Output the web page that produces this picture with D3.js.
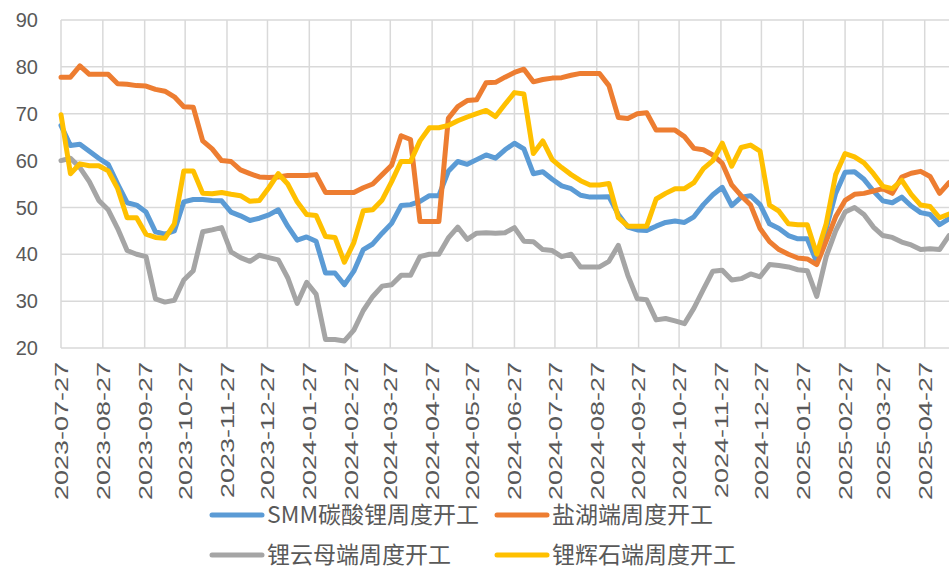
<!DOCTYPE html>
<html>
<head>
<meta charset="utf-8">
<script src="https://cdn.jsdelivr.net/npm/d3@7/dist/d3.min.js"></script>
<style>
  body { margin: 0; background: #fff; }
  text { fill: #595959; }
</style>
</head>
<body>
<svg id="chart" width="949" height="571"></svg>
<script>

// weekly readings, one per Thursday from 2023-07-27
var firstWeek = "2023-07-27";
var lastDay = "2025-05-15";

var monthTicks = ["2023-07-27", "2023-08-27", "2023-09-27", "2023-10-27", "2023-11-27", "2023-12-27",
    "2024-01-27", "2024-02-27", "2024-03-27", "2024-04-27", "2024-05-27", "2024-06-27",
    "2024-07-27", "2024-08-27", "2024-09-27", "2024-10-27", "2024-11-27", "2024-12-27",
    "2025-01-27", "2025-02-27", "2025-03-27", "2025-04-27"];

var yTicks = [20, 30, 40, 50, 60, 70, 80, 90];

var seriesNames = ["SMM碳酸锂周度开工", "盐湖端周度开工", "锂云母端周度开工", "锂辉石端周度开工"];
var seriesColors = ["#5B9BD5", "#ED7D31", "#A5A5A5", "#FFC000"];

var smmRate = [
    67.5, 63.2, 63.5, 62.0, 60.5, 59.2, 55.0, 51.0, 50.5, 49.0,
    44.8, 44.3, 45.0, 51.2, 51.7, 51.7, 51.5, 51.4, 49.0, 48.2,
    47.2, 47.7, 48.4, 49.5, 46.0, 43.0, 43.7, 42.8, 36.0, 36.0,
    33.5, 36.4, 41.0, 42.2, 44.5, 46.6, 50.4, 50.6, 51.3, 52.5,
    52.5, 57.7, 59.8, 59.2, 60.2, 61.2, 60.5, 62.3, 63.7, 62.5,
    57.2, 57.6, 56.0, 54.6, 54.0, 52.6, 52.2, 52.2, 52.3, 48.5,
    45.8, 45.2, 45.1, 46.0, 46.8, 47.1, 46.8, 48.0, 50.6, 52.7,
    54.3, 50.4, 52.2, 52.5, 50.6, 46.5, 45.5, 44.0, 43.3, 43.3,
    38.3, 45.5, 53.0, 57.5, 57.6, 56.0, 53.5, 51.4, 51.0, 52.2,
    50.3, 48.9, 48.5, 46.3, 47.6
];

var saltLakeRate = [
    77.8, 77.8, 80.2, 78.4, 78.4, 78.4, 76.4, 76.3, 76.0, 75.9,
    75.2, 74.8, 73.6, 71.5, 71.4, 64.2, 62.5, 60.0, 59.8, 58.0,
    57.2, 56.5, 56.4, 56.5, 56.8, 56.8, 56.8, 57.0, 53.2, 53.2,
    53.2, 53.2, 54.2, 55.0, 57.0, 59.0, 65.3, 64.5, 47.0, 47.0,
    47.0, 69.0, 71.5, 72.8, 73.0, 76.6, 76.7, 77.8, 78.8, 79.5,
    76.8, 77.3, 77.6, 77.7, 78.2, 78.6, 78.6, 78.6, 76.0, 69.2,
    69.0, 70.0, 70.2, 66.5, 66.5, 66.5, 65.1, 62.6, 62.3, 61.2,
    59.4, 54.8, 52.5, 50.5, 45.5, 42.7, 41.0, 40.0, 39.2, 39.0,
    37.8, 42.8, 48.0, 51.5, 52.8, 53.0, 53.5, 54.0, 53.0, 56.5,
    57.3, 57.7, 56.6, 53.0, 55.3
];

var micaRate = [
    60.0, 60.5, 58.5, 55.5, 51.5, 49.5, 45.5, 40.8, 40.0, 39.5,
    30.5, 29.8, 30.2, 34.5, 36.5, 44.8, 45.2, 45.7, 40.5, 39.3,
    38.5, 39.8, 39.3, 38.8, 35.0, 29.5, 34.0, 31.5, 21.8, 21.8,
    21.5, 23.8, 28.0, 31.0, 33.2, 33.5, 35.5, 35.5, 39.5, 40.0,
    40.0, 43.5, 45.8, 43.2, 44.5, 44.6, 44.5, 44.6, 45.7, 42.8,
    42.7, 41.0, 40.8, 39.5, 40.0, 37.3, 37.3, 37.3, 38.5, 41.9,
    35.5, 30.5, 30.3, 26.0, 26.3, 25.8, 25.2, 28.5, 32.5, 36.4,
    36.6, 34.5, 34.8, 35.8, 35.2, 37.8, 37.6, 37.3, 36.7, 36.5,
    31.0, 39.5, 45.0, 49.0, 50.0, 48.5, 45.8, 44.0, 43.6, 42.6,
    42.0, 41.0, 41.2, 41.0, 44.0
];

var spodumeneRate = [
    69.8, 57.2, 59.3, 58.9, 58.9, 57.8, 54.0, 47.8, 47.8, 44.3,
    43.6, 43.4, 46.5, 57.8, 57.8, 53.0, 52.9, 53.2, 52.8, 52.5,
    51.3, 51.5, 54.2, 57.2, 55.0, 51.2, 48.5, 48.3, 43.8, 43.6,
    38.3, 42.5, 49.3, 49.5, 51.6, 55.5, 59.8, 59.8, 64.2, 67.0,
    67.0, 67.5, 68.5, 69.3, 70.0, 70.7, 69.4, 72.0, 74.5, 74.2,
    61.5, 64.2, 60.2, 58.5, 57.0, 55.7, 54.8, 54.8, 55.1, 47.8,
    46.0, 46.0, 46.0, 51.8, 53.0, 54.0, 54.0, 55.3, 58.3, 60.0,
    63.7, 58.8, 62.8, 63.3, 62.0, 50.5, 49.2, 46.5, 46.3, 46.3,
    40.0, 46.5, 57.0, 61.5, 60.8, 59.5, 57.2, 54.5, 54.0, 55.8,
    52.8, 50.5, 50.2, 47.8, 48.6
];

var svg = d3.select("#chart");
var parse = d3.timeParse("%Y-%m-%d");
var start = parse(firstWeek);

var plot = { left: 61, right: 949, top: 20, bottom: 348 };

var x = d3.scaleTime()
    .domain([start, parse(lastDay)])
    .range([plot.left, plot.right]);

var y = d3.scaleLinear()
    .domain([20, 90])
    .range([plot.bottom, plot.top]);

var weeks = d3.range(smmRate.length).map(function(i) { return d3.timeDay.offset(start, i * 7); });

var allSeries = [smmRate, saltLakeRate, micaRate, spodumeneRate];

// gridlines
svg.append("g")
    .selectAll("line")
    .data(yTicks)
    .join("line")
    .attr("x1", plot.left)
    .attr("x2", plot.right)
    .attr("y1", function(d) { return y(d); })
    .attr("y2", function(d) { return y(d); })
    .attr("stroke", "#d9d9d9")
    .attr("stroke-width", 1.5);

svg.append("g")
    .selectAll("line")
    .data(monthTicks)
    .join("line")
    .attr("x1", function(d) { return x(parse(d)); })
    .attr("x2", function(d) { return x(parse(d)); })
    .attr("y1", plot.top)
    .attr("y2", plot.bottom)
    .attr("stroke", "#d9d9d9")
    .attr("stroke-width", 1.5);

// y labels
svg.append("g")
    .selectAll("text")
    .data(yTicks)
    .join("text")
    .attr("x", 38)
    .attr("y", function(d) { return y(d); })
    .attr("dy", "0.36em")
    .attr("text-anchor", "end")
    .style("font-family", "'Liberation Sans', Arial, sans-serif")
    .style("font-size", "20px")
    .text(function(d) { return d; });

// x labels, rotated (stretched along the text like the original)
svg.append("g")
    .selectAll("text")
    .data(monthTicks)
    .join("text")
    .attr("transform", function(d) {
        return "translate(" + x(parse(d)) + ",362) rotate(-90) scale(1.42,1)";
    })
    .attr("dy", "0.36em")
    .attr("text-anchor", "end")
    .style("font-family", "'Liberation Sans', Arial, sans-serif")
    .style("font-size", "19px")
    .text(function(d) { return d; });

// lines
var line = d3.line()
    .x(function(d, i) { return x(weeks[i]); })
    .y(function(d) { return y(d); });

svg.append("g")
    .selectAll("path")
    .data(allSeries)
    .join("path")
    .attr("d", line)
    .attr("fill", "none")
    .attr("stroke", function(d, i) { return seriesColors[i]; })
    .attr("stroke-width", 5)
    .attr("stroke-linejoin", "round")
    .attr("stroke-linecap", "round");

// legend, two rows of two
var legendPos = [[212, 515], [497, 515], [212, 555], [497, 555]];

var legend = svg.append("g")
    .selectAll("g")
    .data(seriesNames)
    .join("g")
    .attr("transform", function(d, i) { return "translate(" + legendPos[i][0] + "," + legendPos[i][1] + ")"; });

legend.append("line")
    .attr("x1", 0)
    .attr("x2", 50)
    .attr("stroke", function(d, i) { return seriesColors[i]; })
    .attr("stroke-width", 5)
    .attr("stroke-linecap", "round");

legend.append("text")
    .attr("x", 55)
    .attr("dy", "0.33em")
    .style("font-family", "'Noto Sans CJK SC', sans-serif")
    .style("font-size", "23px")
    .text(function(d) { return d; });

</script>
</body>
</html>
